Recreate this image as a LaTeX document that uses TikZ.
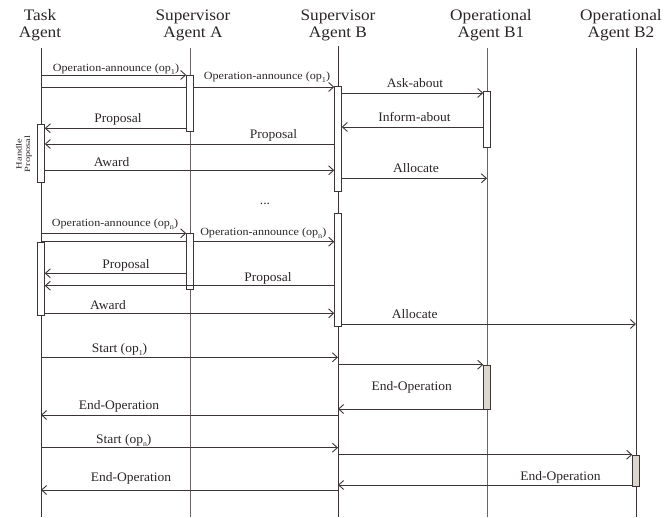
\documentclass[tikz,border=0pt]{standalone}
\usepackage{fontspec}
\setmainfont{Liberation Serif}
\newfontfamily\hdrfont[FakeStretch=1.08]{Liberation Serif}
\newfontfamily\lblfont[FakeStretch=1.04]{Liberation Serif}
\newfontfamily\opfont[FakeStretch=1.1]{Liberation Serif}
\newfontfamily\notefont[FakeStretch=1.3]{Liberation Serif}
\usetikzlibrary{arrows.meta}

\definecolor{ink}{HTML}{2B2528}
\definecolor{wire}{HTML}{3A3437}
\definecolor{lifegray}{HTML}{6A6466}
\definecolor{busy}{HTML}{DDD6CF}

% lowered index for operation names
\newcommand\opidx[1]{\raisebox{-0.5ex}{\fontsize{7.5}{7.5}\selectfont#1}}

\tikzset{
  lifeline/.style={draw=wire, line width=0.9pt},
  lifelinelight/.style={draw=lifegray, line width=1pt},
  actbox/.style={draw=wire, fill=white, line width=0.8pt, minimum width=7.5pt,
    inner sep=0pt, outer sep=0pt},
  busybox/.style={actbox, fill=busy},
  msg/.style={draw=wire, line width=0.9pt,
    -{Straight Barb[length=5pt,width=9pt]}},
  plain/.style={draw=wire, line width=0.9pt},
  hdr/.style={anchor=base, inner sep=0pt, text=ink,
    font=\hdrfont\fontsize{16}{17}\selectfont},
  lbl/.style={anchor=base, inner sep=0pt, text=ink,
    font=\lblfont\fontsize{13}{13}\selectfont},
  oplbl/.style={anchor=base, inner sep=0pt, text=ink,
    font=\opfont\fontsize{11}{11}\selectfont},
  note/.style={inner sep=0pt, text=ink, align=center, rotate=90,
    font=\notefont\fontsize{8}{8.5}\selectfont},
}

\begin{document}
\begin{tikzpicture}[x=1pt,y=-1pt]
\useasboundingbox (0,0) rectangle (665,518);

% headers
\node[hdr] (hT1)  at (40,20.7)  {Task};
\node[hdr] (hT2)  at (40,37.7)  {Agent};
\node[hdr] (hA1)  at (193,20.7) {Supervisor};
\node[hdr] (hA2)  at (193,37.7) {Agent A};
\node[hdr] (hB1)  at (338,20.7) {Supervisor};
\node[hdr] (hB2)  at (338,37.7) {Agent B};
\node[hdr] (hO1a) at (491,20.7) {Operational};
\node[hdr] (hO1b) at (491,37.7) {Agent B1};
\node[hdr] (hO2a) at (621,20.7) {Operational};
\node[hdr] (hO2b) at (621,37.7) {Agent B2};

% lifelines
\coordinate (lT)  at (41,48);   \coordinate (lTend)  at (41,517);
\coordinate (lA)  at (190,48);  \coordinate (lAend)  at (190,517);
\coordinate (lB)  at (338,46);  \coordinate (lBend)  at (338,517);
\coordinate (lB1) at (487,48);  \coordinate (lB1end) at (487,517);
\coordinate (lB2) at (636,48);  \coordinate (lB2end) at (636,517);
\draw[lifeline]      (lT)  -- (lTend);
\draw[lifelinelight] (lA)  -- (lAend);
\draw[lifeline]      (lB)  -- (lBend);
\draw[lifelinelight] (lB1) -- (lB1end);
\draw[lifeline]      (lB2) -- (lB2end);

% activation boxes
\node[actbox, minimum height=56pt]   (A1)  at (190,103)    {};
\node[actbox, minimum height=105pt]  (B1a) at (338,138.5)  {};
\node[actbox, minimum height=55.5pt] (O1a) at (487,119.25) {};
\node[actbox, minimum height=58.5pt] (T1)  at (41,153.25)  {};
\node[actbox, minimum height=113pt]  (B2a) at (338,269.5)  {};
\node[actbox, minimum height=56pt]   (A2)  at (190,261)    {};
\node[actbox, minimum height=73pt]   (T2)  at (41,278.5)   {};
\node[busybox, minimum height=44pt]  (O1b) at (487,387)    {};
\node[busybox, minimum height=31pt]  (O2)  at (636,470.5)  {};

\node[note] (hp) at (24,154) {Handle\\Proposal};

% first operation
\draw[msg]   (lT |- 0,75)      -- (A1.west |- 0,75);
\node[oplbl] (m1) at (116,71.5) {Operation-announce (op\opidx{1})};
\draw[plain] (lT |- 0,87)      -- (A1.west |- 0,87);
\draw[msg]   (A1.east |- 0,87) -- (B1a.west |- 0,87);
\node[oplbl] (m2) at (267,79.5) {Operation-announce (op\opidx{1})};
\draw[msg]   (B1a.east |- 0,93) -- (O1a.west |- 0,93);
\node[lbl]   (m3) at (415,87.3) {Ask-about};
\draw[msg]   (A1.west |- 0,128.3) -- (T1.east |- 0,128.3);
\node[lbl]   (m4) at (118,122.7) {Proposal};
\draw[msg]   (O1a.west |- 0,127) -- (B1a.east |- 0,127);
\node[lbl]   (m5) at (414.5,121.5) {Inform-about};
\draw[msg]   (B1a.west |- 0,144) -- (T1.east |- 0,144);
\node[lbl]   (m6) at (273.5,138.3) {Proposal};
\draw[msg]   (T1.east |- 0,170.3) -- (B1a.west |- 0,170.3);
\node[lbl]   (m7) at (111.7,166.5) {Award};
\draw[msg]   (B1a.east |- 0,178.3) -- (lB1 |- 0,178.3);
\node[lbl]   (m8) at (416,172.7) {Allocate};

\node[lbl]   (dots) at (265,205) {...};

% n-th operation
\draw[msg]   (lT |- 0,233.3)      -- (A2.west |- 0,233.3);
\node[oplbl] (m9) at (115,227) {Operation-announce (op\opidx{n})};
\draw[plain] (lT |- 0,241.7)      -- (A2.west |- 0,241.7);
\draw[msg]   (A2.east |- 0,241.7) -- (B2a.west |- 0,241.7);
\node[oplbl] (m10) at (263.3,236) {Operation-announce (op\opidx{n})};
\draw[msg]   (A2.west |- 0,273.3) -- (T2.east |- 0,273.3);
\node[lbl]   (m11) at (126,269) {Proposal};
\draw[msg]   (B2a.west |- 0,285.7) -- (T2.east |- 0,285.7);
\node[lbl]   (m12) at (268,282) {Proposal};
\draw[msg]   (T2.east |- 0,313.3) -- (B2a.west |- 0,313.3);
\node[lbl]   (m13) at (108,310) {Award};
\draw[msg]   (B2a.east |- 0,324) -- (lB2 |- 0,324);
\node[lbl]   (m14) at (414.7,318.3) {Allocate};

% execution
\draw[msg]   (lT |- 0,357.3) -- (lB |- 0,357.3);
\node[lbl]   (m15) at (119.5,352.7) {Start (op\opidx{1})};
\draw[msg]   (lB |- 0,364.7) -- (O1b.west |- 0,364.7);
\draw[msg]   (O1b.west |- 0,409) -- (lB |- 0,409);
\node[lbl]   (m16) at (411.8,391) {End-Operation};
\draw[msg]   (lB |- 0,415) -- (lT |- 0,415);
\node[lbl]   (m17) at (119,409.5) {End-Operation};
\draw[msg]   (lT |- 0,447.7) -- (lB |- 0,447.7);
\node[lbl]   (m18) at (123.8,443.3) {Start (op\opidx{n})};
\draw[msg]   (lB |- 0,454.7) -- (O2.west |- 0,454.7);
\draw[msg]   (O2.west |- 0,485) -- (lB |- 0,485);
\node[lbl]   (m19) at (560.5,481) {End-Operation};
\draw[msg]   (lB |- 0,490) -- (lT |- 0,490);
\node[lbl]   (m20) at (131,482) {End-Operation};
\end{tikzpicture}
\end{document}
